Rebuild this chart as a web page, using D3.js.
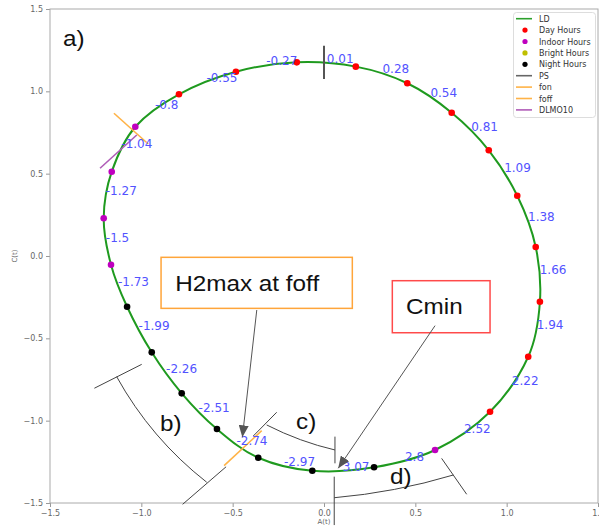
<!DOCTYPE html>
<html>
<head>
<meta charset="utf-8">
<script src="https://cdn.jsdelivr.net/npm/d3@7"></script>
<style>
  body { margin: 0; background: #fff; }
  svg { display: block; }
</style>
</head>
<body>
<svg id="chart" width="599" height="529"></svg>
<script>
// Hourly state (A(t), C(t)) of the oscillator over one light/dark day, clockwise from the top
const hourA = [-0.149, 0.174, 0.456, 0.699, 0.902, 1.058, 1.159, 1.182, 1.118, 0.909, 0.608, 0.274,
               -0.064, -0.360, -0.586, -0.779, -0.943, -1.078, -1.166, -1.206, -1.162, -1.033, -0.794, -0.482];
const hourC = [1.176, 1.150, 1.049, 0.870, 0.642, 0.366, 0.055, -0.278, -0.612, -0.946, -1.178, -1.283,
               -1.304, -1.225, -1.051, -0.834, -0.585, -0.308, -0.053, 0.229, 0.512, 0.785, 0.982, 1.119];
const hourType = ["day", "day", "day", "day", "day", "day", "day", "day", "day", "day", "indoor", "night",
                  "night", "night", "night", "night", "night", "night", "indoor", "indoor", "indoor", "indoor", "day", "day"];
// Phase (rad) written between hour k and hour k+1
const phaseLabels = [0.01, 0.28, 0.54, 0.81, 1.09, 1.38, 1.66, 1.94, 2.22, 2.52, 2.8, 3.07,
                     -2.97, -2.74, -2.51, -2.26, -1.99, -1.73, -1.5, -1.27, -1.04, -0.8, -0.55, -0.27];

const xTicks = [-1.5, -1.0, -0.5, 0.0, 0.5, 1.0, 1.5];
const yTicks = [-1.5, -1.0, -0.5, 0.0, 0.5, 1.0, 1.5];

// Phase markers (segments in A/C units)
const psA = [0.0, 0.0],       psC = [1.075, 1.277];
const fonA = [-1.150, -0.962], fonC = [0.867, 0.680];
const foffA = [-0.547, -0.341], foffC = [-1.273, -1.061];
const dlmoA = [-1.226, -1.025], dlmoC = [0.533, 0.735];

const legendNames = ["LD", "Day Hours", "Indoor Hours", "Bright Hours", "Night Hours", "PS", "fon", "foff", "DLMO10"];
const legendKinds = ["line", "dot", "dot", "dot", "dot", "line", "line", "line", "line"];

const typeColor = { day: "#ff0000", indoor: "#bf00bf", bright: "#bfbf00", night: "#000000" };
const legendColors = ["#2ca02c", "#ff0000", "#bf00bf", "#bfbf00", "#000000", "#666666", "#ffb347", "#ffb347", "#b05cb8"];

const svg = d3.select("#chart");
const x = d3.scaleLinear().domain([-1.5, 1.5]).range([50, 598]);
const y = d3.scaleLinear().domain([-1.5, 1.5]).range([503, 9]);

// Axes
const fmt = d3.format(".1f");
const ax = svg.append("g").attr("transform", `translate(0,${y(-1.5)})`)
  .call(d3.axisBottom(x).tickValues(xTicks).tickSize(4).tickPadding(3).tickFormat(fmt));
const ay = svg.append("g").attr("transform", `translate(${x(-1.5)},0)`)
  .call(d3.axisLeft(y).tickValues(yTicks).tickSize(4).tickPadding(3).tickFormat(fmt));
[ax, ay].forEach(g => {
  g.select(".domain").remove();
  g.selectAll(".tick line").attr("stroke", "#999");
  g.selectAll(".tick text").attr("fill", "#666").style("font", "8px 'DejaVu Sans'");
});
svg.append("rect")
  .attr("x", x(-1.5)).attr("y", y(1.5))
  .attr("width", x(1.5) - x(-1.5)).attr("height", y(-1.5) - y(1.5))
  .attr("fill", "none").attr("stroke", "#aaa").attr("stroke-width", 1);

svg.append("text").attr("transform", `translate(17,${y(0)}) rotate(-90)`)
  .attr("text-anchor", "middle").attr("fill", "#666")
  .style("font", "7px 'DejaVu Sans'").text("C(t)");
svg.append("text").attr("x", x(0)).attr("y", 524)
  .attr("text-anchor", "middle").attr("fill", "#666")
  .style("font", "7px 'DejaVu Sans'").text("A(t)");

// LD limit cycle through the hourly states
const pts = hourA.map((a, i) => [a, hourC[i]]);
svg.append("path")
  .attr("d", d3.line().x(d => x(d[0])).y(d => y(d[1])).curve(d3.curveCardinalClosed.tension(0))(pts))
  .attr("fill", "none").attr("stroke", "#1f9a1f").attr("stroke-width", 2);

// Phase markers
function seg(A, C, color, w) {
  svg.append("line")
    .attr("x1", x(A[0])).attr("y1", y(C[0])).attr("x2", x(A[1])).attr("y2", y(C[1]))
    .attr("stroke", color).attr("stroke-width", w);
}
seg(psA, psC, "#555", 2);
seg(fonA, fonC, "#ffb347", 1.6);
seg(foffA, foffC, "#ffb347", 1.6);
seg(dlmoA, dlmoC, "#b05cb8", 1.6);

// Hour dots
svg.append("g").selectAll("circle").data(pts).join("circle")
  .attr("cx", d => x(d[0])).attr("cy", d => y(d[1])).attr("r", 3.3)
  .attr("fill", (d, i) => typeColor[hourType[i]]);

// Phase labels at the half-hour point of the curve (uniform Catmull-Rom midpoint)
const n = pts.length;
svg.append("g").selectAll("text").data(phaseLabels).join("text")
  .each(function (v, i) {
    const p0 = pts[(i - 1 + n) % n], p1 = pts[i], p2 = pts[(i + 1) % n], p3 = pts[(i + 2) % n];
    const mA = (-p0[0] + 9 * p1[0] + 9 * p2[0] - p3[0]) / 16;
    const mC = (-p0[1] + 9 * p1[1] + 9 * p2[1] - p3[1]) / 16;
    d3.select(this).attr("x", x(mA)).attr("y", y(mC));
  })
  .attr("fill", "#5252ff")
  .style("font", "12px 'DejaVu Sans'")
  .text(d => String(d));

// Legend
const lg = svg.append("g");
lg.append("rect").attr("x", 513.5).attr("y", 12.5).attr("width", 82).attr("height", 105).attr("rx", 3)
  .attr("fill", "#fff").attr("fill-opacity", 0.85).attr("stroke", "#ddd");
legendNames.forEach((name, i) => {
  const cy = 18.7 + i * 11.4;
  if (legendKinds[i] === "line") {
    lg.append("line").attr("x1", 516).attr("x2", 532).attr("y1", cy).attr("y2", cy)
      .attr("stroke", legendColors[i]).attr("stroke-width", 1.6);
  } else {
    lg.append("circle").attr("cx", 525).attr("cy", cy).attr("r", 2.6).attr("fill", legendColors[i]);
  }
  lg.append("text").attr("x", 539).attr("y", cy + 3).attr("fill", "#333")
    .style("font", "8px 'DejaVu Sans'").text(name);
});

// Callouts and brackets
const annColor = "#444";
const defs = svg.append("defs");
defs.append("marker").attr("id", "head").attr("viewBox", "0 0 12 10")
  .attr("refX", 12).attr("refY", 5).attr("markerWidth", 12).attr("markerHeight", 10)
  .attr("markerUnits", "userSpaceOnUse").attr("orient", "auto")
  .append("path").attr("d", "M0,0 L12,5 L0,10 Z").attr("fill", "#555");

function line2(a, w) {
  svg.append("line").attr("x1", x(a[0])).attr("y1", y(a[1])).attr("x2", x(a[2])).attr("y2", y(a[3]))
    .attr("stroke", annColor).attr("stroke-width", w || 1);
}
function arc(s, c, e) {
  const p = d3.path();
  p.moveTo(x(s[0]), y(s[1]));
  p.quadraticCurveTo(x(c[0]), y(c[1]), x(e[0]), y(e[1]));
  svg.append("path").attr("d", p.toString()).attr("fill", "none").attr("stroke", annColor).attr("stroke-width", 1);
}
// Callout lettering is set slightly wide
function label(t, A, C) {
  svg.append("text").attr("transform", `translate(${x(A)},${y(C)}) scale(1.13,1)`).attr("fill", "#111")
    .style("font", "21.5px 'Liberation Sans'").text(t);
}

label("a)", -1.429, 1.275);

// b) interval
line2([-1.257, -0.803, -0.998, -0.658]);
arc([-1.135, -0.733], [-0.947, -1.109], [-0.642, -1.374]);
line2([-0.774, -1.508, -0.536, -1.280]);
label("b)", -0.898, -1.063);

// c) interval
line2([-0.387, -1.093, -0.259, -0.949]);
arc([-0.314, -1.026], [-0.131, -1.129], [0.060, -1.178]);
line2([0.060, -1.097, 0.060, -1.259]);
label("c)", -0.153, -1.051);

// d) interval
line2([0.056, -1.340, 0.056, -1.634]);
arc([0.056, -1.468], [0.389, -1.436], [0.708, -1.330]);
line2([0.644, -1.229, 0.781, -1.447]);
label("d)", 0.361, -1.385);

// Boxed callouts
function box(A0, C0, A1, C1, color) {
  svg.append("rect").attr("x", x(A0)).attr("y", y(C0))
    .attr("width", x(A1) - x(A0)).attr("height", y(C1) - y(C0))
    .attr("fill", "#fff").attr("stroke", color).attr("stroke-width", 1.5);
}
box(-0.892, -0.008, 0.155, -0.318, "#ffa53a");
label("H2max at foff", -0.815, -0.210);
box(0.374, -0.150, 0.909, -0.466, "#ff4a4a");
label("Cmin", 0.449, -0.354);

function arrow(a) {
  svg.append("line").attr("x1", x(a[0])).attr("y1", y(a[1])).attr("x2", x(a[2])).attr("y2", y(a[3]))
    .attr("stroke", "#555").attr("stroke-width", 1).attr("marker-end", "url(#head)");
}
arrow([-0.368, -0.328, -0.447, -1.101]);
arrow([0.608, -0.423, 0.078, -1.289]);
</script>
</body>
</html>
